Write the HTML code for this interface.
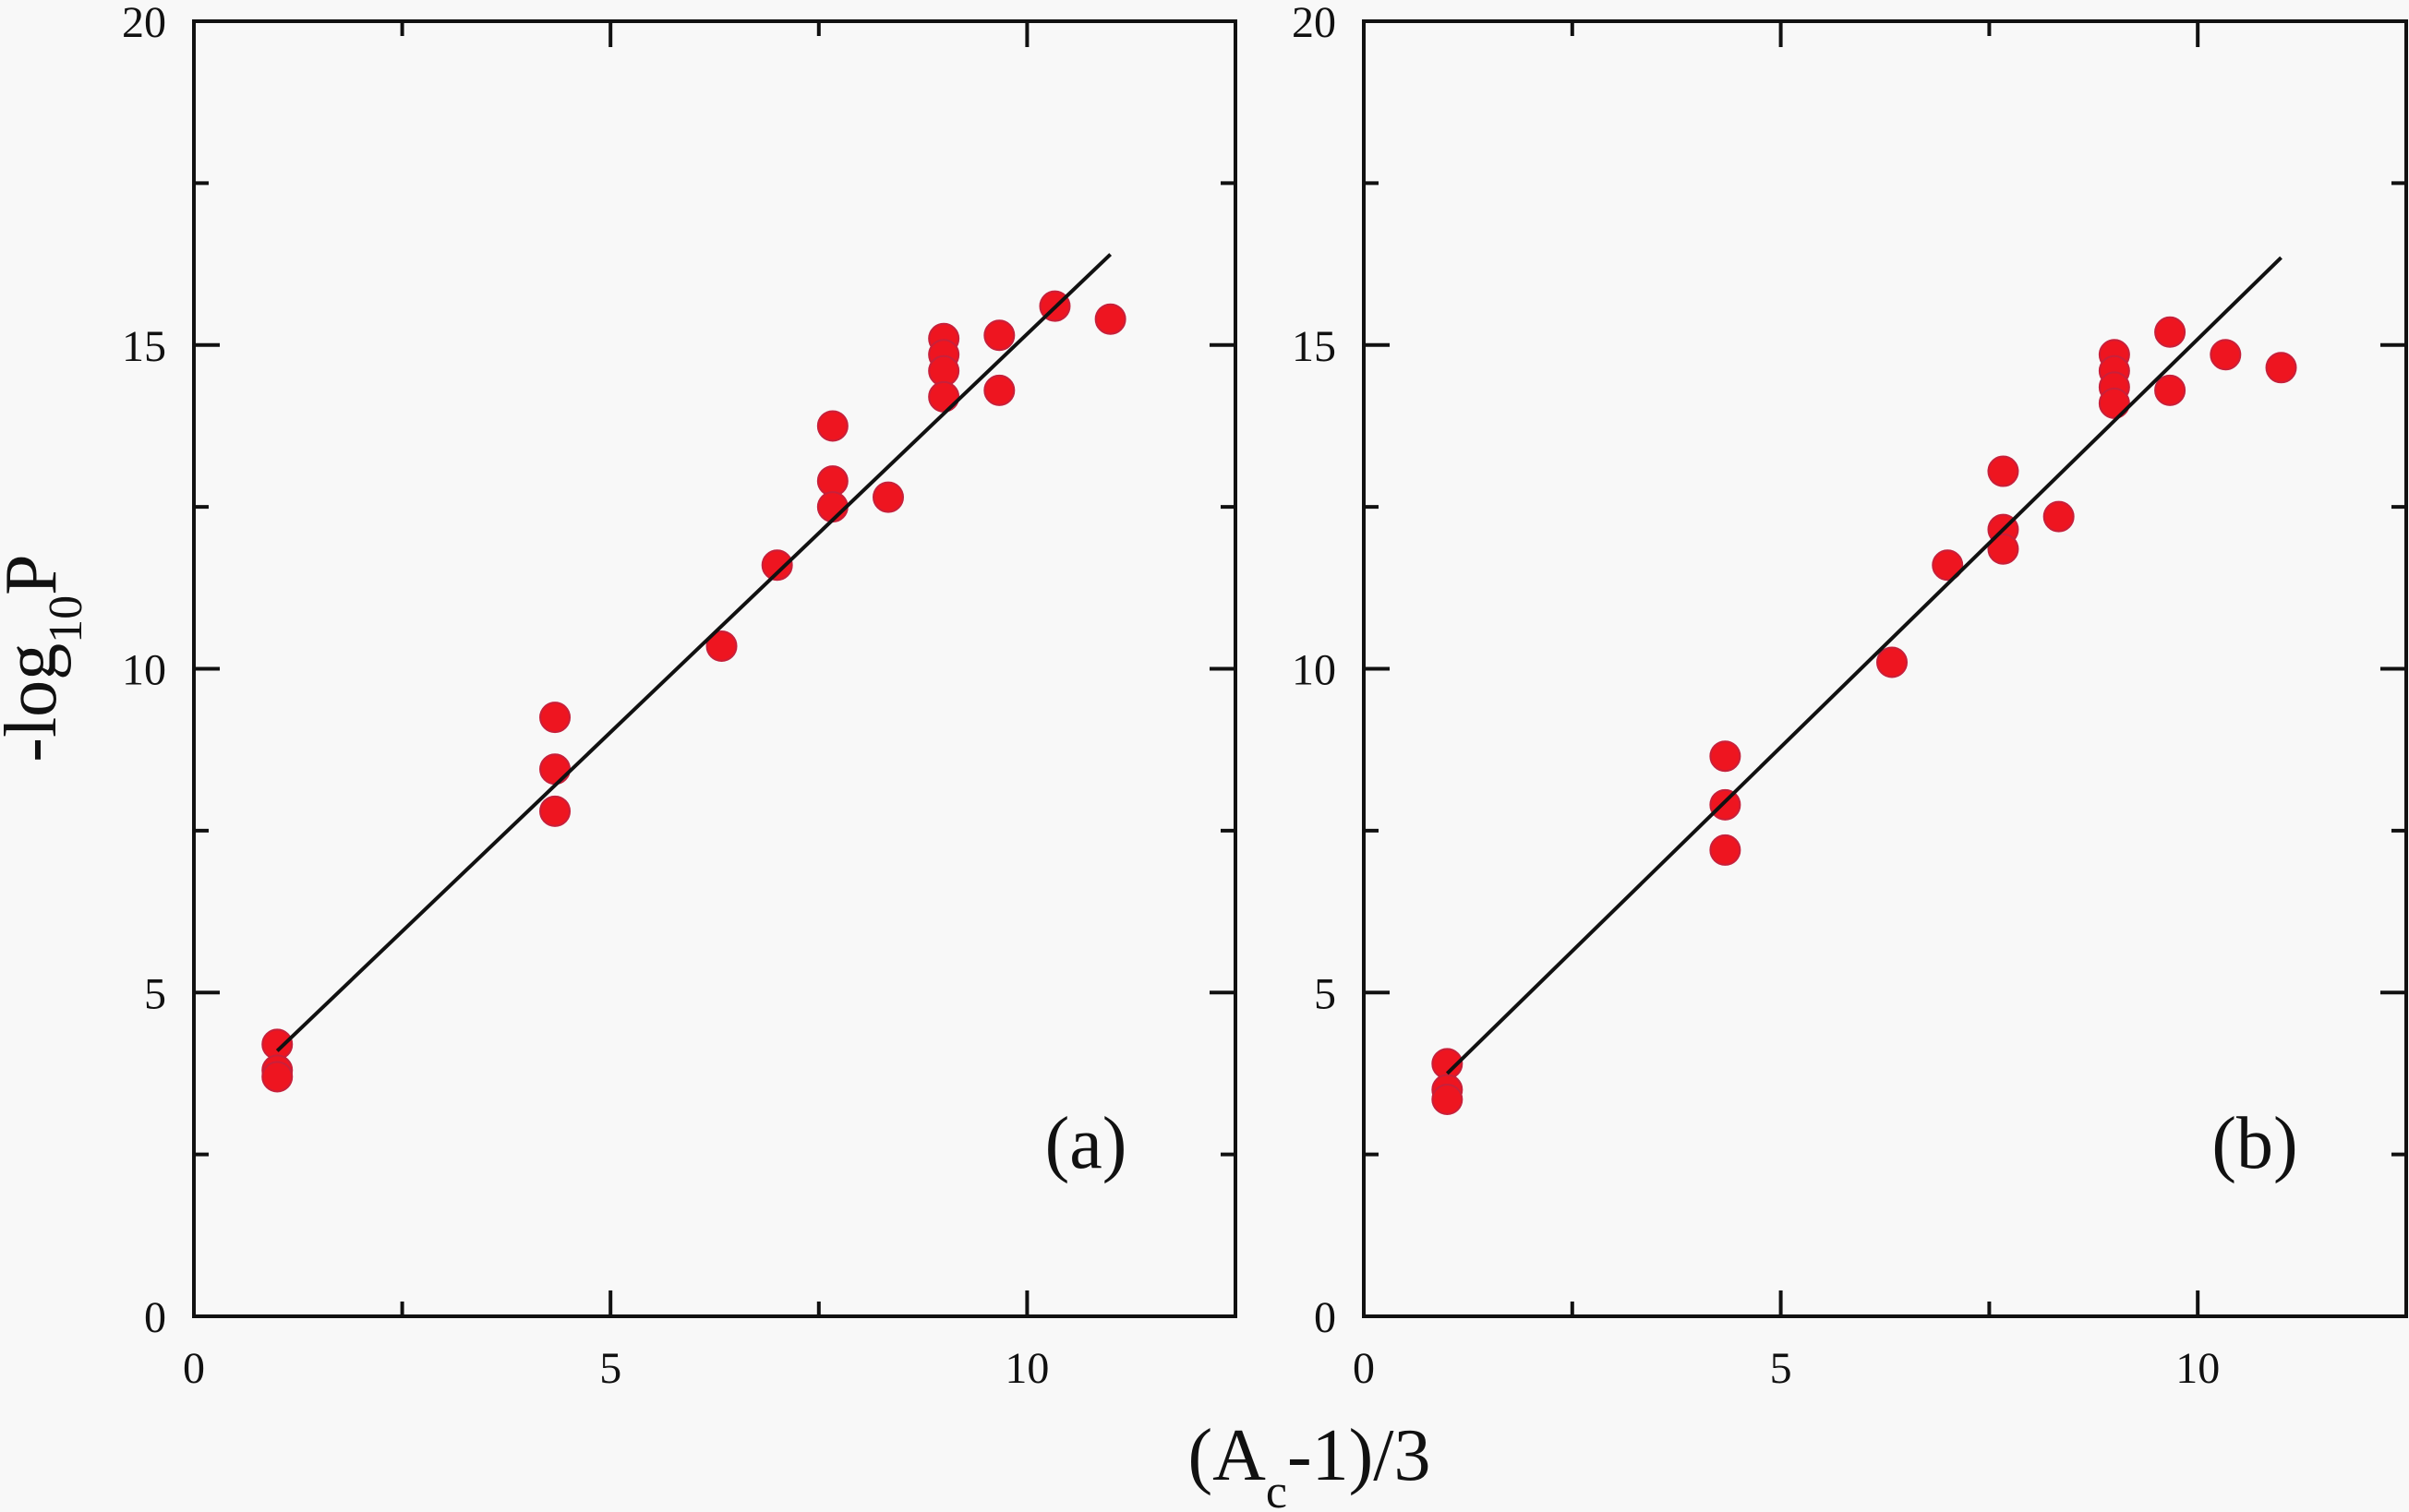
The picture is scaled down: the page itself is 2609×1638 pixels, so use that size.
<!DOCTYPE html>
<html><head><meta charset="utf-8"><style>
html,body{margin:0;padding:0;background:#f8f8f8;}
svg{display:block;}
text{font-family:"Liberation Serif",serif;fill:#111;}
</style></head><body>
<svg id="s" width="2609" height="1638" viewBox="0 0 2609 1638" xmlns="http://www.w3.org/2000/svg">
<rect width="2609" height="1638" fill="#f8f8f8"/>
<g id="g"></g>
<text x="1418" y="1603" font-size="80" text-anchor="middle">(A<tspan dy="30" font-size="52">c</tspan><tspan dy="-30">-1)/3</tspan></text>
<text transform="translate(60,713) rotate(-90)" font-size="80" text-anchor="middle">-log<tspan dy="28" font-size="52">10</tspan><tspan dy="-28">P</tspan></text>
<text x="1176" y="1265" font-size="80" text-anchor="middle">(a)</text>
<text x="2442" y="1265" font-size="80" text-anchor="middle">(b)</text>
</svg>
<script>
var g=document.getElementById('g'),h='';
var T=23,B=1426,uy=(B-T)/20;
function panel(x0,x1,pts,l){
 var ux=(x1-x0)/12.5;
 function X(v){return x0+v*ux}function Y(v){return B-v*uy}
 h+='<rect x="'+x0+'" y="'+T+'" width="'+(x1-x0)+'" height="'+(B-T)+'" fill="none" stroke="#111" stroke-width="4"/>';
 for(var v=2.5;v<12.5;v+=2.5){var L=(v%5==0)?28:16;
  h+='<line x1="'+X(v)+'" x2="'+X(v)+'" y1="'+B+'" y2="'+(B-L)+'" stroke="#111" stroke-width="4"/>';
  h+='<line x1="'+X(v)+'" x2="'+X(v)+'" y1="'+T+'" y2="'+(T+L)+'" stroke="#111" stroke-width="4"/>';}
 for(var v=2.5;v<20;v+=2.5){var L=(v%5==0)?28:16;
  h+='<line x1="'+x0+'" x2="'+(x0+L)+'" y1="'+Y(v)+'" y2="'+Y(v)+'" stroke="#111" stroke-width="4"/>';
  h+='<line x1="'+x1+'" x2="'+(x1-L)+'" y1="'+Y(v)+'" y2="'+Y(v)+'" stroke="#111" stroke-width="4"/>';}
 [0,5,10].forEach(function(v){h+='<text x="'+X(v)+'" y="1498" font-size="48" text-anchor="middle">'+v+'</text>';});
 [0,5,10,15,20].forEach(function(v){h+='<text x="'+(x0-30)+'" y="'+(Y(v)+17)+'" font-size="48" text-anchor="end">'+v+'</text>';});
 pts.forEach(function(p){h+='<circle cx="'+X(p[0])+'" cy="'+Y(p[1])+'" r="16" fill="#ee1520" stroke="#c8203a" stroke-width="2"/>';});
 h+='<line x1="'+X(1)+'" y1="'+Y(l[0])+'" x2="'+X(11)+'" y2="'+Y(l[1])+'" stroke="#111" stroke-width="4"/>';
}
var t=1/3;
panel(210,1338,[[1,4.2],[1,3.8],[1,3.7],[4+t,9.25],[4+t,8.45],[4+t,7.8],[6+t,10.35],[7,11.6],[7+2*t,13.75],[7+2*t,12.9],[7+2*t,12.5],[8+t,12.65],[9,15.1],[9,14.85],[9,14.6],[9,14.2],[9+2*t,15.15],[9+2*t,14.3],[10+t,15.6],[11,15.4]],[4.1,16.4]);
panel(1477,2606,[[1,3.9],[1,3.5],[1,3.35],[4+t,8.65],[4+t,7.9],[4+t,7.2],[6+t,10.1],[7,11.6],[7+2*t,13.05],[7+2*t,12.15],[7+2*t,11.85],[8+t,12.35],[9,14.85],[9,14.6],[9,14.35],[9,14.1],[9+2*t,15.2],[9+2*t,14.3],[10+t,14.85],[11,14.65]],[3.75,16.35]);
g.innerHTML=h;
</script>
</body></html>
